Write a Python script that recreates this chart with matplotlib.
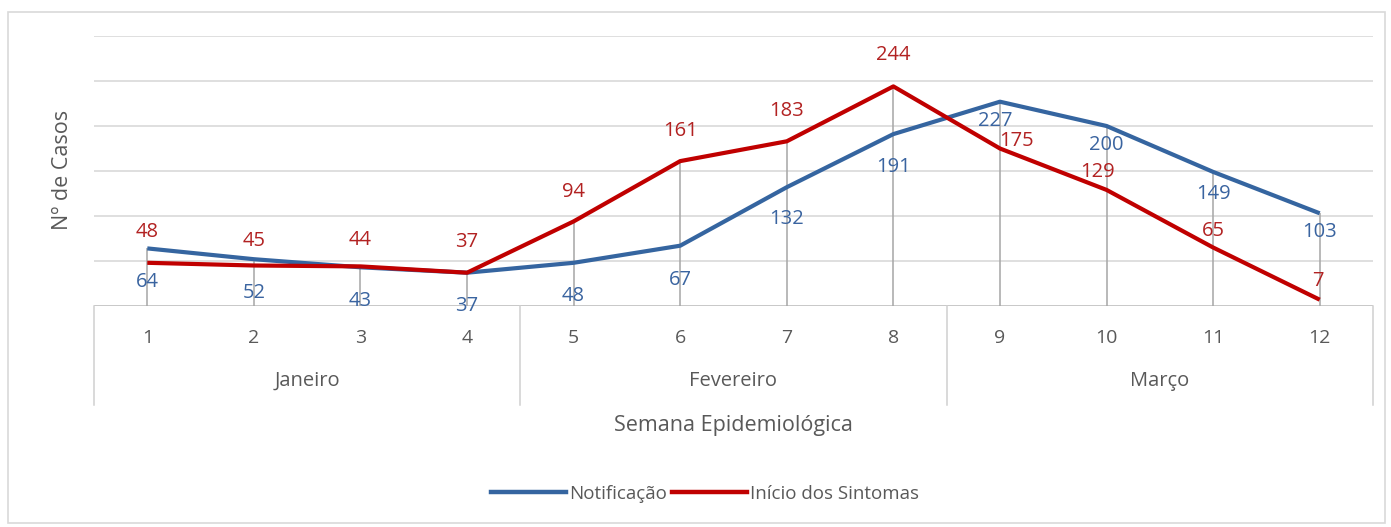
import matplotlib
matplotlib.use("Agg")
import matplotlib.pyplot as plt
from matplotlib.patches import Rectangle
from matplotlib.lines import Line2D

weeks = ["1", "2", "3", "4", "5", "6", "7", "8", "9", "10", "11", "12"]
months = ["Janeiro", "Fevereiro", "Março"]
month_spans = [(1, 4), (5, 8), (9, 12)]
notificacao = [64, 52, 43, 37, 48, 67, 132, 191, 227, 200, 149, 103]
inicio_sintomas = [48, 45, 44, 37, 94, 161, 183, 244, 175, 129, 65, 7]

# label offsets in pixels (style)
red_dx = [0, 0, 0, 0, 0, 0, 0, 0, 17, -9, 0, -2]
red_dy = [31, 25, 26, 31, 29, 30, 30, 31, 8, 18, 16, 19]
blue_dx = [0, 0, 0, 0, 0, 0, 0, 0, -5, 0, 0, 0]
blue_dy = [-34, -34, -34, -33, -33, -34, -32, -33, -19, -19, -22, -19]

BLUE = "#3565A0"
BLUE_TXT = "#3A64A0"
RED = "#C00000"
RED_TXT = "#B22222"
GRAY_TXT = "#595959"

plt.rcParams['font.family'] = ['Open Sans', 'DejaVu Sans']

W, H = 1391, 527
fig = plt.figure(figsize=(W / 100, H / 100), dpi=100)
fig.patch.set_facecolor("white")

# outer chart border
fig.add_artist(Rectangle((8 / W, 4 / H), (1385 - 8) / W, (519 - 8) / H,
                         transform=fig.transFigure, fill=False,
                         edgecolor="#D9D9D9", lw=1.2))

left, right, bottom, top = 94, 1373, 306, 36
ax = fig.add_axes([left / W, 1 - bottom / H, (right - left) / W, (bottom - top) / H])
ax.set_xlim(0.5, 12.5)
ax.set_ylim(0, 300)
for s in ax.spines.values():
    s.set_visible(False)
ax.set_xticks([])
ax.set_yticks([])

x = list(range(1, 13))
for g in [50, 100, 150, 200, 250, 300]:
    ax.axhline(g, color="#D9D9D9", lw=1.2, zorder=0)
ax.axhline(0, color="#BFBFBF", lw=1.2, zorder=1)

tops = [max(a, b) for a, b in zip(notificacao, inicio_sintomas)]
ax.vlines(x, 0, tops, color="#A6A6A6", lw=1.1, zorder=1)

ax.plot(x, notificacao, color=BLUE, lw=3.0, solid_capstyle="butt", zorder=3)
ax.plot(x, inicio_sintomas, color=RED, lw=3.0, solid_capstyle="butt", zorder=4)

for i in range(12):
    ax.annotate(str(inicio_sintomas[i]), (x[i], inicio_sintomas[i]),
                xytext=(red_dx[i], red_dy[i]), textcoords="offset pixels",
                ha="center", va="center", fontsize=14.5, color=RED_TXT, zorder=5)
    ax.annotate(str(notificacao[i]), (x[i], notificacao[i]),
                xytext=(blue_dx[i], blue_dy[i]), textcoords="offset pixels",
                ha="center", va="center", fontsize=14.5, color=BLUE_TXT, zorder=5)

# multi-level category axis
ph = bottom - top
tr = ax.get_xaxis_transform()
for i, w in enumerate(weeks):
    ax.text(x[i], -32 / ph, w, transform=tr, ha="center", va="center",
            fontsize=14, color=GRAY_TXT, clip_on=False)
for m, (a, b) in zip(months, month_spans):
    ax.text((a + b) / 2, -75 / ph, m, transform=tr, ha="center", va="center",
            fontsize=14.5, color=GRAY_TXT, clip_on=False)
seps = [month_spans[0][0] - 0.5] + [b + 0.5 for _, b in month_spans]
for s in seps:
    ax.add_line(Line2D([s, s], [0, -99 / ph], transform=tr, color="#D0D0D0",
                       lw=1.1, clip_on=False))

ax.text(6.5, -119 / ph, "Semana Epidemiológica", transform=tr, ha="center",
        va="center", fontsize=15.5, color=GRAY_TXT, clip_on=False)
fig.text(62 / W, 1 - 170 / H, "Nº de Casos", rotation=90, ha="center",
         va="center", fontsize=15.5, color=GRAY_TXT)

handles = [Line2D([], [], color=BLUE, lw=3.2), Line2D([], [], color=RED, lw=3.2)]
fig.legend(handles, ["Notificação", "Início dos Sintomas"],
           loc="center", bbox_to_anchor=(705 / W, 1 - 494 / H), ncol=2,
           frameon=False, handlelength=4.0, handletextpad=0.15,
           columnspacing=0.3, prop={"size": 13.5}, labelcolor=GRAY_TXT)

fig.savefig("out.png", dpi=100, facecolor="white")
